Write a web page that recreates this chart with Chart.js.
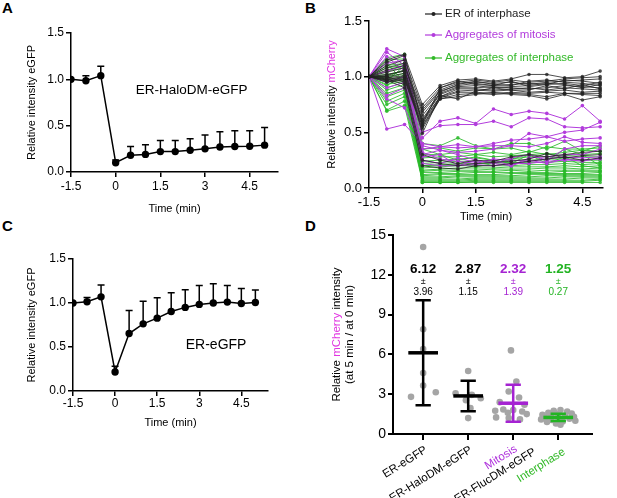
<!DOCTYPE html>
<html>
<head>
<meta charset="utf-8">
<script src="https://cdn.jsdelivr.net/npm/chart.js@4.4.1/dist/chart.umd.min.js"></script>
<style>
  body { margin: 0; background: #fff; width: 617px; height: 498px; position: relative; overflow: hidden;
         font-family: "Liberation Sans", Arial, sans-serif; }
  canvas { position: absolute; }
  .tag { position: absolute; font-weight: bold; font-size: 15px; line-height: 15px; color: #000; }
</style>
</head>
<body>
<div class="tag" style="left:2px;top:0px">A</div>
<div class="tag" style="left:305px;top:0px">B</div>
<div class="tag" style="left:2px;top:218px">C</div>
<div class="tag" style="left:305px;top:218px">D</div>
<canvas id="chartA" width="300" height="216" style="left:0;top:0"></canvas>
<canvas id="chartB" width="317" height="224" style="left:300px;top:0"></canvas>
<canvas id="chartC" width="300" height="190" style="left:0;top:240px"></canvas>
<canvas id="chartD" width="317" height="278" style="left:300px;top:220px"></canvas>
<script>
// ---- data ----
const times = [-1.5, -1, -0.5, 0, 0.5, 1, 1.5, 2, 2.5, 3, 3.5, 4, 4.5, 5];
const timeTicks = [-1.5, 0, 1.5, 3, 4.5];
const intensityTicks = [0, 0.5, 1, 1.5];

// panel A: ER-HaloDM-eGFP mean and top of error bar
const haloMean  = [1.0, 0.985, 1.04, 0.10, 0.18, 0.19, 0.22, 0.22, 0.235, 0.25, 0.27, 0.275, 0.278, 0.29];
const haloUpper = [1.0, 1.04, 1.14, 0.13, 0.275, 0.295, 0.34, 0.34, 0.36, 0.40, 0.435, 0.445, 0.445, 0.48];

// panel C: ER-eGFP
const erGfpMean  = [1.0, 1.014, 1.07, 0.216, 0.653, 0.763, 0.828, 0.904, 0.95, 0.984, 1.0, 1.01, 0.995, 1.006];
const erGfpUpper = [1.0, 1.063, 1.204, 0.28, 0.915, 1.02, 1.06, 1.117, 1.15, 1.2, 1.22, 1.2, 1.166, 1.147];

// panel B: single traces
const erInterphase = [
  [1, 1.13, 1.19, 0.75, 0.92, 0.97, 0.98, 0.96, 0.98, 1.02, 1.02, 0.99, 1.0, 1.05],
  [1, 1.10, 1.15, 0.72, 0.90, 0.95, 0.97, 0.95, 0.97, 0.95, 0.96, 0.98, 0.99, 1.0],
  [1, 1.06, 1.10, 0.70, 0.88, 0.94, 0.95, 0.94, 0.95, 0.93, 0.95, 0.96, 0.97, 0.98],
  [1, 1.04, 1.08, 0.68, 0.87, 0.92, 0.94, 0.92, 0.93, 0.94, 0.93, 0.94, 0.92, 0.95],
  [1, 1.02, 1.05, 0.65, 0.85, 0.91, 0.92, 0.90, 0.91, 0.92, 0.94, 0.93, 0.90, 0.93],
  [1, 1.00, 1.03, 0.62, 0.84, 0.90, 0.90, 0.91, 0.90, 0.89, 0.90, 0.92, 0.91, 0.90],
  [1, 0.99, 1.01, 0.60, 0.82, 0.89, 0.89, 0.88, 0.89, 0.90, 0.88, 0.90, 0.89, 0.88],
  [1, 0.98, 1.00, 0.58, 0.82, 0.87, 0.88, 0.87, 0.88, 0.86, 0.87, 0.88, 0.86, 0.87],
  [1, 0.97, 0.99, 0.56, 0.81, 0.86, 0.86, 0.85, 0.86, 0.85, 0.86, 0.85, 0.85, 0.85],
  [1, 0.96, 0.98, 0.55, 0.80, 0.84, 0.85, 0.84, 0.85, 0.84, 0.82, 0.85, 0.84, 0.83],
  [1, 0.95, 0.97, 0.53, 0.80, 0.82, 0.84, 0.86, 0.84, 0.83, 0.80, 0.84, 0.79, 0.82],
  [1, 1.08, 1.12, 0.60, 0.86, 0.93, 0.96, 0.93, 0.92, 0.96, 0.97, 0.95, 0.94, 0.92],
  [1, 1.01, 1.06, 0.49, 0.83, 0.80, 0.87, 0.90, 0.88, 0.88, 0.92, 0.89, 0.93, 0.89],
  [1, 1.15, 1.20, 0.57, 0.90, 0.96, 0.93, 0.92, 0.96, 0.91, 0.93, 0.97, 0.96, 0.94],
  [1, 1.00, 0.95, 0.30, 0.25, 0.22, 0.25, 0.24, 0.28, 0.30, 0.28, 0.30, 0.32, 0.33],
  [1, 0.98, 0.93, 0.25, 0.22, 0.20, 0.22, 0.23, 0.24, 0.26, 0.31, 0.27, 0.29, 0.30],
  [1, 0.97, 0.90, 0.20, 0.18, 0.17, 0.20, 0.20, 0.22, 0.24, 0.26, 0.28, 0.25, 0.27]
];
const aggMitosis = [
  [1, 1.25, 1.18, 0.45, 0.60, 0.63, 0.58, 0.71, 0.66, 0.69, 0.67, 0.62, 0.74, 0.60],
  [1, 1.22, 1.10, 0.50, 0.56, 0.57, 0.57, 0.60, 0.55, 0.63, 0.62, 0.55, 0.54, 0.55],
  [1, 0.53, 0.57, 0.40, 0.37, 0.39, 0.37, 0.40, 0.43, 0.44, 0.46, 0.50, 0.52, 0.59],
  [1, 0.80, 0.72, 0.35, 0.37, 0.36, 0.37, 0.38, 0.38, 0.49, 0.46, 0.42, 0.44, 0.45],
  [1, 0.83, 0.90, 0.30, 0.34, 0.32, 0.33, 0.35, 0.38, 0.37, 0.40, 0.46, 0.41, 0.40],
  [1, 0.95, 1.00, 0.28, 0.30, 0.20, 0.25, 0.22, 0.27, 0.30, 0.25, 0.35, 0.38, 0.38],
  [1, 1.05, 1.10, 0.25, 0.22, 0.27, 0.23, 0.25, 0.20, 0.27, 0.28, 0.30, 0.30, 0.35],
  [1, 1.12, 1.15, 0.32, 0.26, 0.24, 0.22, 0.26, 0.25, 0.24, 0.26, 0.28, 0.27, 0.28],
  [1, 0.90, 0.95, 0.22, 0.20, 0.20, 0.21, 0.20, 0.22, 0.22, 0.24, 0.25, 0.25, 0.26],
  [1, 1.18, 1.05, 0.38, 0.34, 0.30, 0.25, 0.22, 0.20, 0.25, 0.22, 0.26, 0.24, 0.27]
];
const aggInterphase = [
  [1, 1.17, 1.20, 0.40, 0.38, 0.45, 0.38, 0.35, 0.40, 0.40, 0.35, 0.42, 0.33, 0.38],
  [1, 1.15, 1.16, 0.35, 0.36, 0.33, 0.36, 0.35, 0.36, 0.32, 0.37, 0.35, 0.35, 0.36],
  [1, 1.10, 1.12, 0.30, 0.30, 0.32, 0.30, 0.32, 0.30, 0.33, 0.30, 0.32, 0.34, 0.33],
  [1, 1.08, 1.10, 0.27, 0.28, 0.28, 0.30, 0.28, 0.29, 0.30, 0.31, 0.29, 0.30, 0.31],
  [1, 1.05, 1.08, 0.24, 0.25, 0.26, 0.27, 0.25, 0.26, 0.28, 0.28, 0.27, 0.28, 0.28],
  [1, 1.02, 1.05, 0.22, 0.23, 0.24, 0.24, 0.23, 0.25, 0.25, 0.26, 0.26, 0.25, 0.25],
  [1, 0.99, 1.03, 0.20, 0.21, 0.22, 0.22, 0.22, 0.23, 0.23, 0.23, 0.24, 0.23, 0.23],
  [1, 0.97, 1.00, 0.18, 0.19, 0.20, 0.20, 0.20, 0.20, 0.21, 0.21, 0.22, 0.21, 0.22],
  [1, 0.95, 0.98, 0.16, 0.17, 0.18, 0.18, 0.18, 0.19, 0.19, 0.19, 0.20, 0.19, 0.20],
  [1, 0.93, 0.96, 0.15, 0.16, 0.16, 0.16, 0.17, 0.17, 0.17, 0.18, 0.18, 0.17, 0.18],
  [1, 0.90, 0.95, 0.14, 0.14, 0.15, 0.15, 0.15, 0.16, 0.15, 0.16, 0.16, 0.16, 0.16],
  [1, 0.88, 0.93, 0.12, 0.13, 0.13, 0.14, 0.14, 0.14, 0.14, 0.14, 0.15, 0.15, 0.15],
  [1, 0.85, 0.90, 0.11, 0.12, 0.12, 0.12, 0.12, 0.13, 0.13, 0.13, 0.13, 0.13, 0.14],
  [1, 0.82, 0.88, 0.10, 0.10, 0.11, 0.11, 0.11, 0.11, 0.12, 0.12, 0.12, 0.12, 0.12],
  [1, 0.78, 0.85, 0.09, 0.09, 0.10, 0.10, 0.10, 0.10, 0.10, 0.11, 0.11, 0.11, 0.11],
  [1, 0.75, 0.82, 0.08, 0.08, 0.08, 0.09, 0.09, 0.09, 0.09, 0.09, 0.10, 0.10, 0.10],
  [1, 0.70, 0.78, 0.07, 0.07, 0.07, 0.08, 0.08, 0.08, 0.08, 0.08, 0.08, 0.09, 0.09],
  [1, 0.69, 0.74, 0.06, 0.06, 0.06, 0.07, 0.07, 0.07, 0.07, 0.07, 0.07, 0.07, 0.08],
  [1, 0.92, 1.02, 0.05, 0.05, 0.05, 0.06, 0.06, 0.06, 0.06, 0.06, 0.06, 0.06, 0.07],
  [1, 1.00, 1.06, 0.05, 0.05, 0.05, 0.05, 0.05, 0.05, 0.05, 0.05, 0.05, 0.05, 0.05],
  [1, 1.12, 0.95, 0.20, 0.20, 0.21, 0.19, 0.22, 0.26, 0.30, 0.24, 0.35, 0.30, 0.20],
  [1, 0.96, 1.10, 0.35, 0.30, 0.25, 0.28, 0.25, 0.22, 0.30, 0.22, 0.28, 0.20, 0.18]
];
const legendNames = ["ER of interphase", "Aggregates of mitosis", "Aggregates of interphase"];

// panel D: ratio at 5 min / 0 min, per cell, with x spread
const groupLabels = ["ER-eGFP", "ER-HaloDM-eGFP", "Mitosis", "Interphase"];
const sharedLabel = "ER-FlucDM-eGFP";
const groupTicks = [0, 3, 6, 9, 12, 15];
const groupMeans = [6.12, 2.87, 2.32, 1.25];
const groupSD = [3.96, 1.15, 1.39, 0.27];
const ratioErGfp  = [14.1, 7.9, 6.4, 4.6, 3.65, 2.8, 3.15];
const spreadErGfp = [1.0, 1.0, 1.0, 1.0, 1.0, 0.73, 1.28];
const ratioHalo   = [4.75, 3.07, 2.95, 2.7, 2.55, 1.95, 1.2];
const spreadHalo  = [2.0, 1.72, 2.08, 2.28, 1.95, 2.05, 2.0];
const ratioMitosis  = [6.3, 3.95, 3.2, 2.75, 2.4, 2.2, 1.85, 1.8, 1.75, 1.7, 1.6, 1.5, 1.25, 1.2, 1.1];
const spreadMitosis = [2.95, 3.07, 2.9, 3.13, 2.7, 3.25, 2.78, 3.0, 2.6, 3.2, 2.88, 3.3, 2.62, 2.9, 3.15];
const ratioInter  = [1.8, 1.75, 1.7, 1.6, 1.55, 1.5, 1.45, 1.4, 1.35, 1.3, 1.25, 1.2, 1.15, 1.1, 1.05, 1.0, 0.95, 0.9, 0.8, 0.7];
const spreadInter = [4.05, 3.9, 4.2, 3.78, 4.3, 4.0, 3.65, 4.15, 3.85, 4.35, 3.7, 4.0, 4.25, 3.62, 3.85, 4.38, 4.1, 3.75, 3.95, 4.05];

// ---- styles ----
const FONT = '"Liberation Sans", Arial, sans-serif';
Chart.defaults.font.family = FONT;
Chart.defaults.color = '#000';
const BLACK = 'rgba(35,35,35,0.8)';
const PURPLE = 'rgb(178,60,220)';
const GREEN = 'rgba(40,185,40,0.85)';
const MAGENTA = 'rgb(225,55,225)';
const groupColors = ['#000', '#000', 'rgb(165,35,210)', 'rgb(35,180,35)'];

const errorBars = {
  id: 'errorBars',
  beforeDatasetsDraw(chart) {
    const ctx = chart.ctx, y = chart.scales.y;
    chart.data.datasets.forEach((ds, i) => {
      if (!ds.upper) return;
      const meta = chart.getDatasetMeta(i);
      ctx.save();
      ctx.strokeStyle = '#000';
      ctx.lineWidth = 1.5;
      meta.data.forEach((pt, j) => {
        const top = y.getPixelForValue(ds.upper[j]);
        if (pt.y - top < 1) return;
        ctx.beginPath();
        ctx.moveTo(pt.x, pt.y);
        ctx.lineTo(pt.x, top);
        ctx.moveTo(pt.x - 3.5, top);
        ctx.lineTo(pt.x + 3.5, top);
        ctx.stroke();
      });
      ctx.restore();
    });
  }
};

function textNote(text, xv, yv, size) {
  return {
    id: 'note',
    afterDraw(chart) {
      const ctx = chart.ctx;
      ctx.save();
      ctx.font = size + 'px ' + FONT;
      ctx.fillStyle = '#000';
      ctx.textAlign = 'center';
      ctx.textBaseline = 'middle';
      ctx.fillText(text, chart.scales.x.getPixelForValue(xv), chart.scales.y.getPixelForValue(yv));
      ctx.restore();
    }
  };
}

function drawParts(ctx, parts, cx, cy, size, rotate) {
  ctx.save();
  ctx.font = size + 'px ' + FONT;
  ctx.translate(cx, cy);
  if (rotate) ctx.rotate(-Math.PI / 2);
  const total = parts.reduce((s, p) => s + ctx.measureText(p[0]).width, 0);
  let x = -total / 2;
  ctx.textBaseline = 'middle';
  ctx.textAlign = 'left';
  parts.forEach(([t, c]) => { ctx.fillStyle = c; ctx.fillText(t, x, 0); x += ctx.measureText(t).width; });
  ctx.restore();
}

function timeAxis(max, tickSize, height, tickPad) {
  return {
    type: 'linear', min: -1.5, max: max,
    afterBuildTicks: s => { s.ticks = timeTicks.map(v => ({ value: v })); },
    ticks: { callback: v => String(v), font: { size: tickSize }, padding: tickPad, maxRotation: 0, autoSkip: false },
    grid: { drawOnChartArea: false, tickLength: 5, color: '#000', lineWidth: 1.5 },
    border: { color: '#000', width: 1.5 },
    title: { display: true, text: 'Time (min)', font: { size: 11 }, padding: 0 },
    afterFit: s => { s.height = height; }
  };
}

function intensityAxis(width, tickSize, title) {
  return {
    min: 0, max: 1.5,
    afterBuildTicks: s => { s.ticks = intensityTicks.map(v => ({ value: v })); },
    ticks: { callback: v => v.toFixed(1), font: { size: tickSize }, padding: 2 },
    grid: { drawOnChartArea: false, tickLength: 5, color: '#000', lineWidth: 1.5 },
    border: { color: '#000', width: 1.5 },
    title: { display: !!title, text: title, font: { size: 11 }, padding: 0 },
    afterFit: s => { s.width = width; }
  };
}

function meanChart(id, mean, upper, padding, xMax, xHeight, tickPad, yWidth, note, notePos) {
  return new Chart(document.getElementById(id), {
    type: 'line',
    data: {
      datasets: [{
        data: times.map((t, i) => ({ x: t, y: mean[i] })),
        upper: upper,
        borderColor: '#000', backgroundColor: '#000',
        borderWidth: 1.5, pointRadius: 3.7, pointBorderWidth: 0
      }]
    },
    options: {
      responsive: false, animation: false,
      layout: { padding: padding },
      plugins: { legend: { display: false }, tooltip: { enabled: false } },
      scales: {
        x: timeAxis(xMax, 12, xHeight, tickPad),
        y: intensityAxis(yWidth, 12, 'Relative intensity eGFP')
      }
    },
    plugins: [errorBars, textNote(note, notePos[0], notePos[1], notePos[2])]
  });
}

meanChart('chartA', haloMean, haloUpper, { left: 25, top: 33, right: 22, bottom: 0 }, 5.45, 44, 2,
  46, 'ER-HaloDM-eGFP', [2.55, 0.88, 13.5]);
meanChart('chartC', erGfpMean, erGfpUpper, { left: 25, top: 19, right: 32, bottom: 0 }, 5.45, 39, 0,
  48, 'ER-eGFP', [3.6, 0.52, 14]);

// panel B
function traces(list, color) {
  return list.map(v => ({
    data: times.map((t, i) => ({ x: t, y: v[i] })),
    borderColor: color, backgroundColor: color,
    borderWidth: 1, pointRadius: 1.8, pointBorderWidth: 0
  }));
}

const panelB = {
  id: 'panelB',
  afterDraw(chart) {
    const ctx = chart.ctx, a = chart.chartArea;
    drawParts(ctx, [['Relative intensity ', '#000'], ['mCherry', MAGENTA]], 32, (a.top + a.bottom) / 2, 11, true);
    const colors = ['#222', PURPLE, 'rgb(50,185,40)'];
    const rows = [14, 35, 58];
    legendNames.forEach((name, i) => {
      ctx.save();
      ctx.strokeStyle = colors[i];
      ctx.fillStyle = colors[i];
      ctx.lineWidth = 1.2;
      ctx.beginPath();
      ctx.moveTo(125, rows[i]);
      ctx.lineTo(142, rows[i]);
      ctx.stroke();
      ctx.beginPath();
      ctx.arc(133.5, rows[i], 2, 0, Math.PI * 2);
      ctx.fill();
      ctx.font = '11.5px ' + FONT;
      ctx.textBaseline = 'middle';
      ctx.fillText(name, 145, rows[i]);
      ctx.restore();
    });
  }
};

new Chart(document.getElementById('chartB'), {
  type: 'line',
  data: {
    datasets: [].concat(traces(erInterphase, BLACK), traces(aggMitosis, PURPLE), traces(aggInterphase, GREEN))
  },
  options: {
    responsive: false, animation: false,
    layout: { padding: { left: 30, top: 21, right: 14, bottom: 0 } },
    plugins: { legend: { display: false }, tooltip: { enabled: false } },
    scales: {
      x: timeAxis(5.08, 13, 36, 2),
      y: intensityAxis(39, 13, '')
    }
  },
  plugins: [panelB]
});

// panel D
function dots(vals, xs) {
  return {
    data: vals.map((v, i) => ({ x: xs[i], y: v })),
    showLine: false,
    pointRadius: 3.3, pointBorderWidth: 0,
    backgroundColor: 'rgb(165,165,165)'
  };
}

const panelD = {
  id: 'panelD',
  afterDatasetsDraw(chart) {
    const ctx = chart.ctx, x = chart.scales.x, y = chart.scales.y, a = chart.chartArea;
    groupMeans.forEach((m, i) => {
      const cx = x.getPixelForValue(i + 1);
      const half = x.getPixelForValue(i + 1.33) - cx;
      const cap = x.getPixelForValue(i + 1.17) - cx;
      const top = y.getPixelForValue(m + groupSD[i]);
      const bot = y.getPixelForValue(m - groupSD[i]);
      const mid = y.getPixelForValue(m);
      ctx.save();
      ctx.strokeStyle = groupColors[i];
      ctx.lineWidth = 2.5;
      ctx.beginPath();
      ctx.moveTo(cx, top); ctx.lineTo(cx, bot);
      ctx.moveTo(cx - cap, top); ctx.lineTo(cx + cap, top);
      ctx.moveTo(cx - cap, bot); ctx.lineTo(cx + cap, bot);
      ctx.stroke();
      ctx.lineWidth = 3.5;
      ctx.beginPath();
      ctx.moveTo(cx - half, mid); ctx.lineTo(cx + half, mid);
      ctx.stroke();
      ctx.fillStyle = groupColors[i];
      ctx.textAlign = 'center';
      ctx.textBaseline = 'middle';
      ctx.font = 'bold 13.5px ' + FONT;
      ctx.fillText(m.toFixed(2), cx, a.top + 34);
      ctx.font = '9px ' + FONT;
      ctx.fillText('±', cx, a.top + 47);
      ctx.font = '10px ' + FONT;
      ctx.fillText(groupSD[i].toFixed(2), cx, a.top + 57);
      ctx.restore();
    });
  },
  afterDraw(chart) {
    const ctx = chart.ctx, x = chart.scales.x, a = chart.chartArea;
    drawParts(ctx, [['Relative ', '#000'], ['mCherry', MAGENTA], [' intensity', '#000']], 37, (a.top + a.bottom) / 2, 11.5, true);
    drawParts(ctx, [['(at 5 min / at 0 min)', '#000']], 50, (a.top + a.bottom) / 2, 11.5, true);
    const labelColors = ['#000', '#000', 'rgb(175,50,220)', 'rgb(50,185,40)'];
    const put = (text, px, py, color) => {
      ctx.save();
      ctx.translate(px, py);
      ctx.rotate(-32 * Math.PI / 180);
      ctx.font = '11.5px ' + FONT;
      ctx.fillStyle = color;
      ctx.textAlign = 'right';
      ctx.textBaseline = 'middle';
      ctx.fillText(text, 0, 0);
      ctx.restore();
    };
    const shift = [3, 3, 3, 6];
    const drop = [15, 15, 14, 17];
    groupLabels.forEach((t, i) => put(t, x.getPixelForValue(i + 1) + shift[i], a.bottom + drop[i], labelColors[i]));
    put(sharedLabel, x.getPixelForValue(3.5) - 1, a.bottom + 17, '#000');
  }
};

new Chart(document.getElementById('chartD'), {
  type: 'scatter',
  data: {
    datasets: [
      dots(ratioErGfp, spreadErGfp),
      dots(ratioHalo, spreadHalo),
      dots(ratioMitosis, spreadMitosis),
      dots(ratioInter, spreadInter)
    ]
  },
  options: {
    responsive: false, animation: false,
    layout: { padding: { left: 30, top: 15, right: 25, bottom: 0 } },
    plugins: { legend: { display: false }, tooltip: { enabled: false } },
    scales: {
      x: {
        type: 'linear', min: 0.33, max: 4.75,
        afterBuildTicks: s => { s.ticks = groupLabels.map((t, i) => ({ value: i + 1 })); },
        ticks: { callback: () => '' },
        grid: { drawOnChartArea: false, tickLength: 6, color: '#000', lineWidth: 2 },
        border: { color: '#000', width: 2 },
        afterFit: s => { s.height = 64; }
      },
      y: {
        min: 0, max: 15,
        afterBuildTicks: s => { s.ticks = groupTicks.map(v => ({ value: v })); },
        ticks: { font: { size: 14 }, padding: 2 },
        grid: { drawOnChartArea: false, tickLength: 5, color: '#000', lineWidth: 2 },
        border: { color: '#000', width: 2 },
        afterFit: s => { s.width = 63; }
      }
    }
  },
  plugins: [panelD]
});
</script>
</body>
</html>
